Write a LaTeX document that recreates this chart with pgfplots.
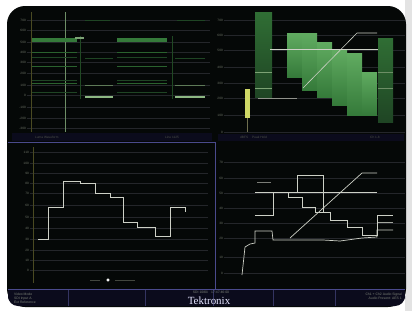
\documentclass[border=0pt]{standalone}
\usepackage{fontspec}
\setmainfont{Liberation Sans}
\newfontfamily\tekfont{Liberation Serif}
\usepackage{pgfplots}
\pgfplotsset{compat=1.18}
\definecolor{scr}{HTML}{050807}
\definecolor{gridc}{HTML}{24262A}
\definecolor{lbl}{HTML}{6E7468}
\definecolor{navy}{HTML}{0B0B1C}
\definecolor{frame}{HTML}{4A4A8C}
\definecolor{gB}{HTML}{4FA24F}
\definecolor{gM}{HTML}{357A3A}
\definecolor{gD}{HTML}{1F4524}
\definecolor{gL}{HTML}{9CCB92}
\definecolor{wl}{HTML}{CDD0C6}
\definecolor{olive}{HTML}{4A4A22}
\pgfplotsset{
  panel/.style={scale only axis, anchor=north west, y dir=reverse,
    axis line style={draw=none}, major tick length=0pt, xtick=\empty,
    ymajorgrids, grid style={gridc, line width=0.4bp},
    yticklabel style={font=\fontsize{3.2}{3.6}\selectfont, text=lbl, inner sep=1bp},
    /pgf/number format/assume math mode=true,
    unbounded coords=jump},
}
\begin{document}
\begin{tikzpicture}
\begin{scope}[x=1bp,y=1bp]
\fill[white] (0,0) rectangle (412,-311);
\fill[gray!22] (405,0) rectangle (412,-311);
\fill[scr, rounded corners=18bp] (7,-6) rectangle (406,-307);
% status strips
\fill[navy] (12,-133) rectangle (212,-141);
\fill[navy] (218,-134) rectangle (404,-141);
\fill[navy, rounded corners=10bp] (8,-289) rectangle (405,-306);
\fill[navy] (8,-289) rectangle (405,-297);
\end{scope}

% ---------- top left ----------
\begin{axis}[panel, at={(27bp,-12bp)}, width=183bp, height=120bp,
  xmin=27, xmax=210, ymin=12, ymax=132,
  ytick={20,30,42,52,62,73,85,95,107,118,128},
  yticklabels={700,600,500,400,300,200,100,0,-100,-200,-300}]
\addplot[olive, line width=0.6bp] coordinates {(31,12) (31,132)};
\addplot[gL!70!black, line width=0.7bp] coordinates {(65,12) (65,132)};
\addplot[gM!60!black, line width=0.4bp] coordinates {(80,36) (80,99) (172,nan) (172,36) (172,99)};
\addplot[gM, line width=4bp] coordinates {(32,40) (77,40) (117,nan) (117,40) (167,40)};
\addplot[gL!80!black, line width=1.6bp] coordinates {(75,38) (84,38)};
\addplot[gM!80!black, line width=1bp] coordinates {(32,52) (77,52) (117,nan) (117,52) (167,52)};
\addplot[gD, line width=1bp] coordinates {(32,57) (77,57) (117,nan) (117,57) (167,57)};
\addplot[gM!80!black, line width=1bp] coordinates {(32,66) (77,66) (117,nan) (117,66) (167,66)};
\addplot[gD, line width=0.8bp] coordinates {(32,80) (77,80) (117,nan) (117,80) (167,80)};
\addplot[gM!80!black, line width=1bp] coordinates {(32,83) (77,83) (117,nan) (117,83) (167,83)};
\addplot[gD, line width=0.8bp] coordinates {(32,92) (77,92) (117,nan) (117,92) (167,92)};
\addplot[gD, line width=0.8bp] coordinates {(85,20) (110,20) (177,nan) (177,20) (205,20)};
\addplot[gD, line width=0.8bp] coordinates {(85,58) (113,58) (175,nan) (175,58) (205,58)};
\addplot[gL!60!black, line width=1bp] coordinates {(85,85) (113,85) (175,nan) (175,85) (205,85)};
\addplot[gL!90!black, line width=1.6bp] coordinates {(85,97) (113,97) (175,nan) (175,97) (205,97)};
\end{axis}

% ---------- top right ----------
\begin{axis}[panel, at={(224bp,-10bp)}, width=181bp, height=124bp,
  xmin=224, xmax=405, ymin=10, ymax=134,
  ytick={20,35,50,67,83,98,115,132},
  yticklabels={700,600,500,400,300,200,100,0}]
\addplot[draw=none, shade, top color=gM!90!black, bottom color=gD] coordinates {(255,12) (272,12) (272,97) (255,97)} -- cycle;
\addplot[gL!80!black, line width=0.8bp] coordinates {(255,72) (272,72) (255,nan) (255,88) (272,88)};
\addplot[draw=none, shade, top color=gM!90!black, bottom color=gD] coordinates {(378,38) (393,38) (393,122) (378,122)} -- cycle;
\addplot[gL!70!black, line width=0.8bp] coordinates {(378,72) (393,72) (378,nan) (378,88) (393,88)};
\addplot[draw=none, shade, top color=gB!90!white, bottom color=gM] coordinates {(287,33) (302,33) (302,77) (287,77)} -- cycle;
\addplot[draw=none, shade, top color=gB!90!white, bottom color=gM] coordinates {(302,33) (317,33) (317,90) (302,90)} -- cycle;
\addplot[draw=none, shade, top color=gB!90!white, bottom color=gM] coordinates {(317,42) (332,42) (332,97) (317,97)} -- cycle;
\addplot[draw=none, shade, top color=gB!90!white, bottom color=gM] coordinates {(332,50) (347,50) (347,105) (332,105)} -- cycle;
\addplot[draw=none, shade, top color=gB!90!white, bottom color=gM] coordinates {(347,53) (362,53) (362,115) (347,115)} -- cycle;
\addplot[draw=none, shade, top color=gB!90!white, bottom color=gM] coordinates {(362,72) (377,72) (377,115) (362,115)} -- cycle;
\addplot[draw=none, fill=yellow!45!gL] coordinates {(245,89) (250,89) (250,118) (245,118)} -- cycle;
\addplot[olive!80!white, line width=0.5bp] coordinates {(247.5,118) (247.5,132)};
\addplot[wl, line width=0.6bp] coordinates {(270,49) (378,49)};
\addplot[wl!70!black, line width=0.6bp] coordinates {(258,98) (297,98)};
\addplot[wl, line width=0.6bp] coordinates {(303,88) (357,33) (377,33)};
\end{axis}

% ---------- bottom left ----------
\begin{axis}[panel, at={(30bp,-147bp)}, width=178bp, height=136bp,
  xmin=30, xmax=208, ymin=147, ymax=283,
  ytick={152,163,173,183,193,205,217,228,239,250,260,270},
  yticklabels={110,100,90,80,70,60,50,40,30,20,10,0}]
\addplot[olive, line width=0.6bp] coordinates {(33,147) (33,283)};
\addplot[wl, line width=1bp] coordinates {(38,239) (48,239) (48,207) (63,207) (63,181) (80,181) (80,183) (95,183) (95,193) (110,193) (110,197) (123,197) (123,222) (137,222) (137,227) (155,227) (155,236) (170,236) (170,207) (185,207) (185,212)};
\addplot[only marks, mark=*, mark size=1.3bp, white] coordinates {(108,280)};
\addplot[lbl!60!black, line width=0.6bp] coordinates {(90,280) (100,280) (115,nan) (115,280) (135,280)};
\end{axis}

% ---------- bottom right ----------
\begin{axis}[panel, at={(224bp,-147bp)}, width=181bp, height=138bp,
  xmin=224, xmax=405, ymin=147, ymax=285,
  ytick={162,178,193,208,223,238,257,273},
  yticklabels={70,60,50,40,30,20,10,0}]
\addplot[wl, line width=0.7bp] coordinates {(242,275) (245,247) (250,244) (255,243) (255,231) (272,231) (273,240) (295,240) (323,240) (340,241) (362,238) (377,237) (377,230) (393,230)};
\addplot[wl, line width=0.7bp] coordinates {(255,215) (273,215) (273,192) (288,192) (288,197) (302,197) (302,207) (315,207) (315,212) (330,212) (330,220) (347,220) (347,227) (362,227) (362,235) (377,235) (377,215) (393,215)};
\addplot[wl, line width=0.7bp] coordinates {(255,192) (377,192)};
\addplot[wl, line width=0.7bp] coordinates {(297,192) (297,175) (323,175) (323,212)};
\addplot[wl, line width=0.7bp] coordinates {(290,238) (362,173) (377,173)};
\addplot[wl!80!black, line width=0.7bp] coordinates {(378,222) (393,222)};
\addplot[wl!60!black, line width=0.6bp] coordinates {(257,182) (271,182)};
\end{axis}

\begin{scope}[x=1bp,y=1bp]
% panel frames
\draw[frame, line width=0.8bp] (8,-142) -- (215,-142) -- (215,-289);
\draw[frame, line width=0.8bp] (8,-289) -- (405,-289);
\foreach \xx in {68,145,213,273,335} \draw[frame!70!black, line width=0.5bp] (\xx,-290) -- (\xx,-306);
% bottom bar texts
\node[anchor=west, align=left, text=lbl!90!white, font=\fontsize{3.4}{4}\selectfont, inner sep=0] at (14,-298) {Video Mode\\SDI Input A\\Ext Reference};
\node[text=lbl!90!white, font=\fontsize{3.4}{4}\selectfont, inner sep=0] at (211,-292.5) {SDI 1080i\quad 17:47:46:00};
\node[text=white!90!blue, font=\tekfont\fontsize{11}{11}\selectfont, inner sep=0] at (209,-301) {Tektronix};
\node[anchor=east, align=right, text=lbl!90!white, font=\fontsize{3.4}{4}\selectfont, inner sep=0] at (402,-296) {Ch1 + Ch2 Audio Signal\\Audio Present: AES 1};
% status strip texts
\node[anchor=west, text=lbl!70!black, font=\fontsize{3.2}{4}\selectfont, inner sep=0] at (35,-137) {Luma Waveform};
\node[anchor=west, text=lbl!70!black, font=\fontsize{3.2}{4}\selectfont, inner sep=0] at (165,-137) {Line 1125};
\node[anchor=west, text=lbl!70!black, font=\fontsize{3.2}{4}\selectfont, inner sep=0] at (240,-137) {dBFS \quad Peak Hold};
\node[anchor=west, text=lbl!70!black, font=\fontsize{3.2}{4}\selectfont, inner sep=0] at (370,-137) {Ch 1-8};
\end{scope}
\end{tikzpicture}
\end{document}
